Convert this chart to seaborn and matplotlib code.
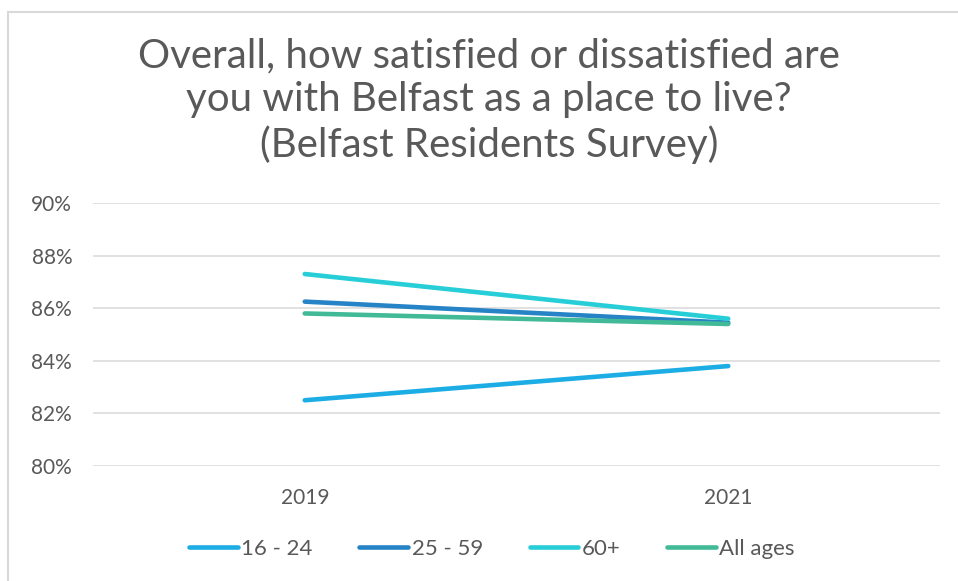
import matplotlib
matplotlib.use("Agg")
import matplotlib.pyplot as plt
from matplotlib.patches import Rectangle
import seaborn as sns
import pandas as pd

# Survey results: share of residents satisfied with Belfast as a place to live
years = ["2019", "2021"]
age_16_24 = [82.5, 83.8]
age_25_59 = [86.25, 85.45]
age_60_plus = [87.3, 85.6]
all_ages = [85.8, 85.4]
groups = ["16 - 24", "25 - 59", "60+", "All ages"]
colors = ["#1CADE4", "#2683C6", "#27CED7", "#42BA97"]
y_ticks = [80, 82, 84, 86, 88, 90]

rows = []
for name, vals in zip(groups, [age_16_24, age_25_59, age_60_plus, all_ages]):
    for yr, v in zip(years, vals):
        rows.append({"Year": yr, "Value": v, "Group": name})
df = pd.DataFrame(rows)

sns.set_theme(style="white")
plt.rcParams["font.family"] = ["Lato", "DejaVu Sans"]
text_color = "#595959"
grid_color = "#D9D9D9"

fig = plt.figure(figsize=(9.58, 5.81), dpi=100)
ax = fig.add_axes([93 / 958, 1 - 466 / 581, (940 - 93) / 958, (466 - 203) / 581])

for y in y_ticks:
    ax.axhline(y, color=grid_color, lw=1.1, zorder=0)

sns.lineplot(data=df, x="Year", y="Value", hue="Group", hue_order=groups,
             palette=colors, linewidth=3.3, ax=ax, sort=False, legend=True,
             solid_capstyle="round")

ax.set_xlim(-0.5, 1.5)
ax.set_ylim(80, 90)
ax.set_yticks(y_ticks)
ax.set_yticklabels([f"{t}%" for t in y_ticks])
ax.set_xlabel("")
ax.set_ylabel("")
ax.tick_params(axis="both", length=0, labelsize=15, colors=text_color)
ax.tick_params(axis="y", pad=15)
ax.tick_params(axis="x", pad=16)
for s in ax.spines.values():
    s.set_visible(False)

handles, labels = ax.get_legend_handles_labels()
for h in handles:
    h.set_linewidth(3.3)
    h.set_solid_capstyle("round")
ax.legend(handles, labels, loc="center", bbox_to_anchor=(492 / 958, 1 - 549 / 581),
          bbox_transform=fig.transFigure, ncol=4, frameon=False, fontsize=16,
          handlelength=2.2, handletextpad=0.15, columnspacing=2.1,
          labelcolor=text_color)

fig.text(489 / 958, 1 - 101 / 581,
         "Overall, how satisfied or dissatisfied are\nyou with Belfast as a place to live?\n(Belfast Residents Survey)",
         ha="center", va="center", fontsize=29, color=text_color, linespacing=1.23)

# chart frame
fig.patches.append(Rectangle((8 / 958, -0.05), 1.05, 1 - 12 / 581 + 0.05,
                             transform=fig.transFigure, fill=False,
                             edgecolor=grid_color, lw=1.5))

fig.savefig("out.png", dpi=100, facecolor="white")
